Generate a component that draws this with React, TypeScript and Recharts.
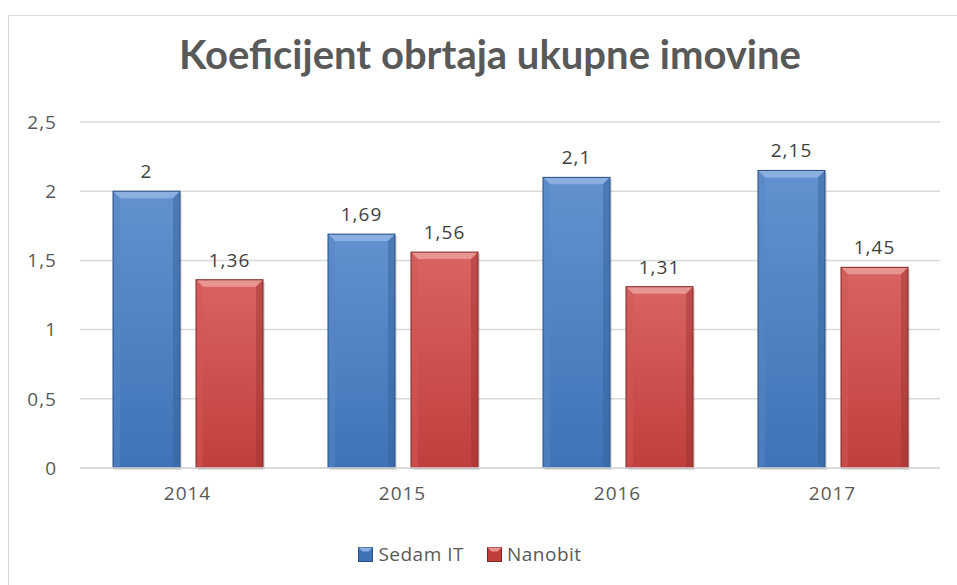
import React from 'react';
import { BarChart, Bar, XAxis, YAxis, CartesianGrid, LabelList, Legend } from 'recharts';

const categories = ['2014', '2015', '2016', '2017'];
const sedamIT = [2, 1.69, 2.1, 2.15];
const nanobit = [1.36, 1.56, 1.31, 1.45];
const yTicks = [0, 0.5, 1, 1.5, 2, 2.5];
const seriesNames = ['Sedam IT', 'Nanobit'];
const title = 'Koeficijent obrtaja ukupne imovine';

const data = categories.map((c, i) => ({ year: c, sedam: sedamIT[i], nano: nanobit[i] }));
const fmt = (v: any) => String(v).replace('.', ',');

const palettes = {
  blue: { id: 'blue', g1: '#6391d0', g2: '#3f73b7', top: '#8aafe0', left: '#5585c6', right: '#325f99', stroke: '#2a4f80' },
  red: { id: 'red', g1: '#d86461', g2: '#c03f3c', top: '#e8948f', left: '#cf5855', right: '#9c3230', stroke: '#7e2725' },
};

const font = '"Open Sans", sans-serif';

const makeShape = (pal: any) => (props: any) => {
  const { x, y, width: w, height: h } = props;
  if (!h || h <= 0) return <g />;
  const b = Math.min(7, w / 4, h / 2);
  return (
    <g>
      <rect x={x + 2} y={y + 2} width={w} height={h} fill="rgba(0,0,0,0.12)" />
      <rect x={x} y={y} width={w} height={h} fill={`url(#grad-${pal.id})`} />
      <polygon points={`${x},${y} ${x + w},${y} ${x + w - b},${y + b} ${x + b},${y + b}`} fill={pal.top} />
      <polygon points={`${x},${y} ${x + b},${y + b} ${x + b},${y + h - 2} ${x},${y + h}`} fill={pal.left} opacity={0.5} />
      <polygon points={`${x + w},${y} ${x + w - b},${y + b} ${x + w - b},${y + h - 2} ${x + w},${y + h}`} fill={pal.right} opacity={0.45} />
      <rect x={x} y={y} width={w} height={h} fill="none" stroke={pal.stroke} strokeWidth={1} />
    </g>
  );
};

const LegendIcon = ({ pal }: any) => (
  <svg width={15} height={15} style={{ marginRight: 5 }}>
    <rect x={0.5} y={0.5} width={14} height={14} fill={pal.g2} stroke={pal.stroke} strokeWidth={1} />
    <polygon points="0.5,0.5 14.5,0.5 10.5,4.5 4.5,4.5" fill={pal.top} />
  </svg>
);

const renderLegend = () => (
  <div style={{ display: 'flex', justifyContent: 'center', alignItems: 'center', paddingTop: 29, fontFamily: font, fontSize: 19, letterSpacing: 0.5, color: '#595959', lineHeight: '24px' }}>
    <div style={{ display: 'flex', alignItems: 'center', marginRight: 23 }}>
      <LegendIcon pal={palettes.blue} />
      <span>{seriesNames[0]}</span>
    </div>
    <div style={{ display: 'flex', alignItems: 'center' }}>
      <LegendIcon pal={palettes.red} />
      <span>{seriesNames[1]}</span>
    </div>
  </div>
);

const tickStyle = { fill: '#595959', fontSize: 19, fontFamily: font, letterSpacing: 1 };
const labelStyle = { fill: '#404040', fontSize: 19, fontFamily: font, letterSpacing: 1 };

export default function App() {
  return (
    <div style={{ position: 'absolute', left: 0, top: 0, width: 957, height: 585, background: '#fff', overflow: 'hidden' }}>
      <div style={{ position: 'absolute', left: 8, top: 15, width: 980, height: 600, border: '1.5px solid #d9d9d9', boxSizing: 'border-box' }} />
      <div style={{ position: 'absolute', left: 0, top: 28, width: 980, textAlign: 'center', fontFamily: 'Lato, sans-serif', fontWeight: 700, fontSize: 40, lineHeight: '52px', color: '#595959' }}>
        {title}
      </div>
      <div style={{ position: 'absolute', left: 0, top: 0 }}>
        <BarChart width={957} height={585} data={data} margin={{ top: 122, right: 17, left: 0, bottom: 0 }} barSize={67} barGap={16}>
          <defs>
            {Object.values(palettes).map((p) => (
              <linearGradient key={p.id} id={`grad-${p.id}`} x1="0" y1="0" x2="0" y2="1">
                <stop offset="0%" stopColor={p.g1} />
                <stop offset="100%" stopColor={p.g2} />
              </linearGradient>
            ))}
          </defs>
          <CartesianGrid vertical={false} stroke="#d9d9d9" strokeWidth={1.5} />
          <XAxis dataKey="year" axisLine={{ stroke: '#d9d9d9', strokeWidth: 1.5 }} tickLine={false} tickSize={0} tickMargin={19} height={45}
            tick={tickStyle} />
          <YAxis domain={[0, 2.5]} ticks={yTicks} axisLine={false} tickLine={false} tickSize={0} tickMargin={23} width={80}
            tickFormatter={fmt} tick={tickStyle} />
          <Legend verticalAlign="bottom" height={72} content={renderLegend} />
          <Bar dataKey="sedam" name={seriesNames[0]} shape={makeShape(palettes.blue)} isAnimationActive={false}>
            <LabelList dataKey="sedam" position="top" offset={13} formatter={fmt} style={labelStyle} />
          </Bar>
          <Bar dataKey="nano" name={seriesNames[1]} shape={makeShape(palettes.red)} isAnimationActive={false}>
            <LabelList dataKey="nano" position="top" offset={13} formatter={fmt} style={labelStyle} />
          </Bar>
        </BarChart>
      </div>
    </div>
  );
}
